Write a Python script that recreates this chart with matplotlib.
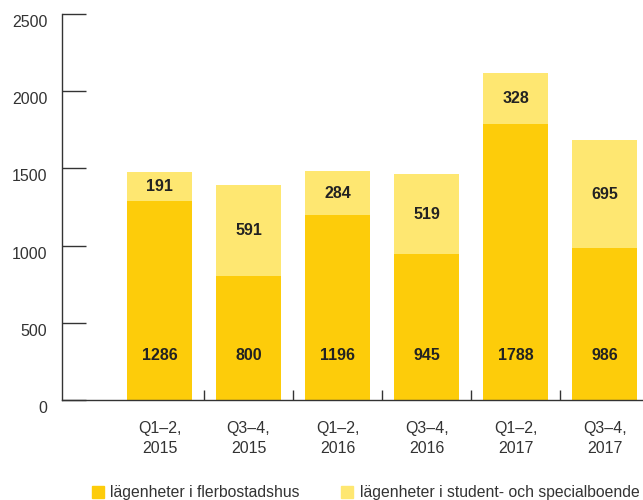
import matplotlib
matplotlib.use("Agg")
import matplotlib.pyplot as plt
import matplotlib.transforms as mtransforms
from matplotlib.patches import Rectangle

# data
kategorier = ["Q1\u20132,\n2015", "Q3\u20134,\n2015", "Q1\u20132,\n2016",
              "Q3\u20134,\n2016", "Q1\u20132,\n2017", "Q3\u20134,\n2017"]
flerbostadshus = [1286, 800, 1196, 945, 1788, 986]
specialboende = [191, 591, 284, 519, 328, 695]
serier = ["lägenheter i flerbostadshus", "lägenheter i student- och specialboende"]

MORK = "#fdcc0a"
LJUS = "#fee771"
TEXT = "#333333"

plt.rcParams["font.family"] = ["Liberation Sans", "DejaVu Sans"]

fig = plt.figure(figsize=(6.43, 5.0), dpi=100)
# axes from x=62..643 px, y=14..400 px
ax = fig.add_axes([62 / 643, 100 / 500, 581 / 643, 386 / 500])

x = list(range(len(kategorier)))
ax.bar(x, flerbostadshus, width=0.73, color=MORK, zorder=2)
ax.bar(x, specialboende, width=0.73, bottom=flerbostadshus, color=LJUS, zorder=2)

for i in x:
    ax.text(i, 290, str(flerbostadshus[i]), ha="center", va="center",
            fontsize=11.5, fontweight="bold", color="#222222")
    ax.text(i, flerbostadshus[i] + specialboende[i] / 2, str(specialboende[i]),
            ha="center", va="center", fontsize=11.5, fontweight="bold", color="#222222")

ax.set_xlim(-1.095, 5.43)
ax.set_ylim(0, 2500)

for s in ["top", "right"]:
    ax.spines[s].set_visible(False)
ax.spines["left"].set_color("#333333")
ax.spines["bottom"].set_color("#333333")
ax.spines["left"].set_linewidth(1.0)
ax.spines["bottom"].set_linewidth(1.0)

# y ticks: short lines pointing into the plot
ax.set_yticks([0, 500, 1000, 1500, 2000, 2500])
ax.tick_params(axis="y", direction="in", length=17, width=1.0, color="#333333",
               labelsize=11.5, labelcolor=TEXT, pad=10.5)
nedat = mtransforms.ScaledTranslation(0, -7 / 100, fig.dpi_scale_trans)
for lbl in ax.get_yticklabels():
    lbl.set_transform(lbl.get_transform() + nedat)

# x ticks between bars
ax.set_xticks([i + 0.5 for i in range(5)])
ax.set_xticklabels([])
ax.tick_params(axis="x", direction="in", length=7, width=1.0, color="#333333")

for i, k in enumerate(kategorier):
    ax.text(i, -135, k, ha="center", va="top", fontsize=11.5, color=TEXT,
            linespacing=1.4)

# legend (manual)
fig.patches.append(Rectangle((92 / 643, 2 / 500), 12 / 643, 12 / 500,
                             transform=fig.transFigure, color=MORK))
fig.text(110 / 643, 8 / 500, serier[0], fontsize=11.3, color=TEXT, va="center")
fig.patches.append(Rectangle((341 / 643, 2 / 500), 12 / 643, 12 / 500,
                             transform=fig.transFigure, color=LJUS))
fig.text(360 / 643, 8 / 500, serier[1], fontsize=11.3, color=TEXT, va="center")

fig.savefig("out.png", dpi=100)
